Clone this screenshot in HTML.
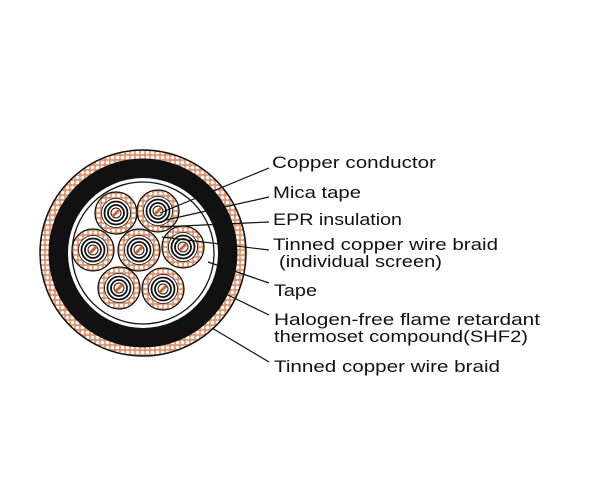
<!DOCTYPE html>
<html><head><meta charset="utf-8"><style>
html,body{margin:0;padding:0;background:#fff;}
svg{display:block;}
text{font-family:"Liberation Sans",sans-serif;font-size:17px;fill:#111;}
</style></head><body>
<svg width="600" height="500" viewBox="0 0 600 500" xmlns="http://www.w3.org/2000/svg">
<defs>
<pattern id="br" width="5" height="5" patternUnits="userSpaceOnUse">
<rect width="5" height="5" fill="#df9670"/>
<circle cx="2.5" cy="2.5" r="1.8" fill="#fff"/>
</pattern>
<g id="core">
<circle r="21" fill="url(#br)" stroke="#111" stroke-width="1.3"/>
<circle r="14.5" fill="#fff" stroke="#111" stroke-width="0.8"/>
<circle r="11.5" fill="#fff" stroke="#111" stroke-width="1.8"/>
<circle r="8" fill="#fff" stroke="#111" stroke-width="1.8"/>
<circle r="5" fill="#fff" stroke="#111" stroke-width="1"/>
<line x1="-3.5" y1="3.5" x2="3.5" y2="-3.5" stroke="#d4622a" stroke-width="3"/>
</g>
</defs>
<circle cx="143" cy="253" r="103" fill="url(#br)" stroke="#111" stroke-width="1.5"/>
<circle cx="143" cy="253" r="94" fill="#111" stroke="#111" stroke-width="1"/>
<circle cx="143" cy="253" r="75" fill="#fff"/>
<circle cx="143" cy="253" r="71" fill="#fff" stroke="#111" stroke-width="1.3"/>
<use href="#core" x="116" y="213"/>
<use href="#core" x="158" y="211"/>
<use href="#core" x="93" y="250"/>
<use href="#core" x="139" y="250"/>
<use href="#core" x="183" y="247"/>
<use href="#core" x="119" y="288"/>
<use href="#core" x="163" y="289"/>
<g stroke="#111" stroke-width="1.2">
<line x1="269" y1="168" x2="160" y2="213"/>
<line x1="269" y1="197" x2="166" y2="220"/>
<line x1="269" y1="222" x2="160" y2="227"/>
<line x1="269" y1="250" x2="162" y2="237"/>
<line x1="269" y1="283" x2="208" y2="262"/>
<line x1="269" y1="315" x2="228" y2="295"/>
<line x1="269" y1="362" x2="212" y2="328"/>
</g>
<text x="272" y="168" textLength="164" lengthAdjust="spacingAndGlyphs">Copper conductor</text>
<text x="273" y="198" textLength="88" lengthAdjust="spacingAndGlyphs">Mica tape</text>
<text x="273" y="225" textLength="129" lengthAdjust="spacingAndGlyphs">EPR insulation</text>
<text x="273" y="250" textLength="225" lengthAdjust="spacingAndGlyphs">Tinned copper wire braid</text>
<text x="279" y="267" textLength="163" lengthAdjust="spacingAndGlyphs">(individual screen)</text>
<text x="274" y="296" textLength="43" lengthAdjust="spacingAndGlyphs">Tape</text>
<text x="274" y="325" textLength="266" lengthAdjust="spacingAndGlyphs">Halogen-free flame retardant</text>
<text x="274" y="342" textLength="254" lengthAdjust="spacingAndGlyphs">thermoset compound(SHF2)</text>
<text x="274" y="372" textLength="226" lengthAdjust="spacingAndGlyphs">Tinned copper wire braid</text>
</svg>
</body></html>
